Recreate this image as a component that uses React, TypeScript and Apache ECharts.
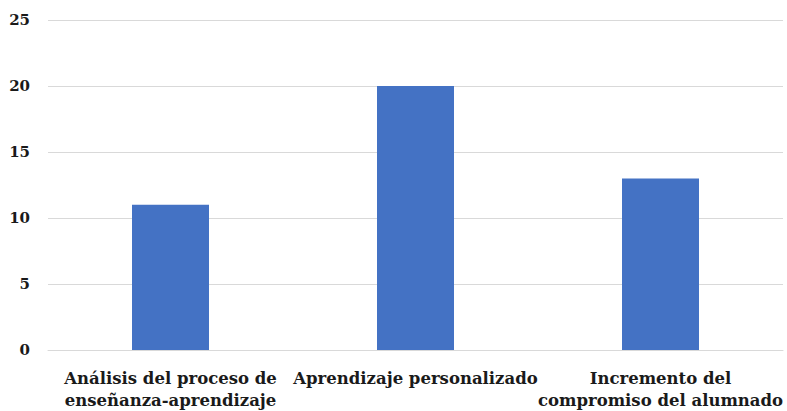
import React, { useEffect, useRef } from "react";
import * as echarts from "echarts";

const categories = [
  "Análisis del proceso de\nenseñanza-aprendizaje",
  "Aprendizaje personalizado",
  "Incremento del\ncompromiso del alumnado",
];
const values = [11, 20, 13];
const yTicks = { min: 0, max: 25, interval: 5 };

export default function App() {
  const ref = useRef<HTMLDivElement>(null);

  useEffect(() => {
    if (!ref.current) return;
    const chart = echarts.init(ref.current, undefined, { renderer: "svg" });
    const font = "'DejaVu Serif', serif";
    chart.setOption({
      animation: false,
      grid: { left: 48, right: 4, top: 20, bottom: 59, containLabel: false },
      xAxis: {
        type: "category",
        data: categories,
        axisLine: { lineStyle: { color: "#d9d9d9", width: 1 } },
        axisTick: { show: false },
        axisLabel: {
          interval: 0,
          margin: 17,
          color: "#1a1a1a",
          fontFamily: font,
          fontWeight: "bold",
          fontSize: 16.5,
          lineHeight: 22,
          verticalAlign: "top",
        },
      },
      yAxis: {
        type: "value",
        min: yTicks.min,
        max: yTicks.max,
        interval: yTicks.interval,
        axisLine: { show: false },
        axisTick: { show: false },
        splitLine: { lineStyle: { color: "#d9d9d9", width: 1 } },
        axisLabel: {
          margin: 18,
          color: "#1a1a1a",
          fontFamily: font,
          fontWeight: "bold",
          fontSize: 15,
        },
      },
      series: [
        {
          type: "bar",
          data: values,
          barWidth: 77,
          itemStyle: { color: "#4472C4" },
        },
      ],
    });
    return () => chart.dispose();
  }, []);

  return (
    <div
      ref={ref}
      style={{ position: "absolute", left: 0, top: 0, width: 787, height: 411, background: "#fff" }}
    />
  );
}
